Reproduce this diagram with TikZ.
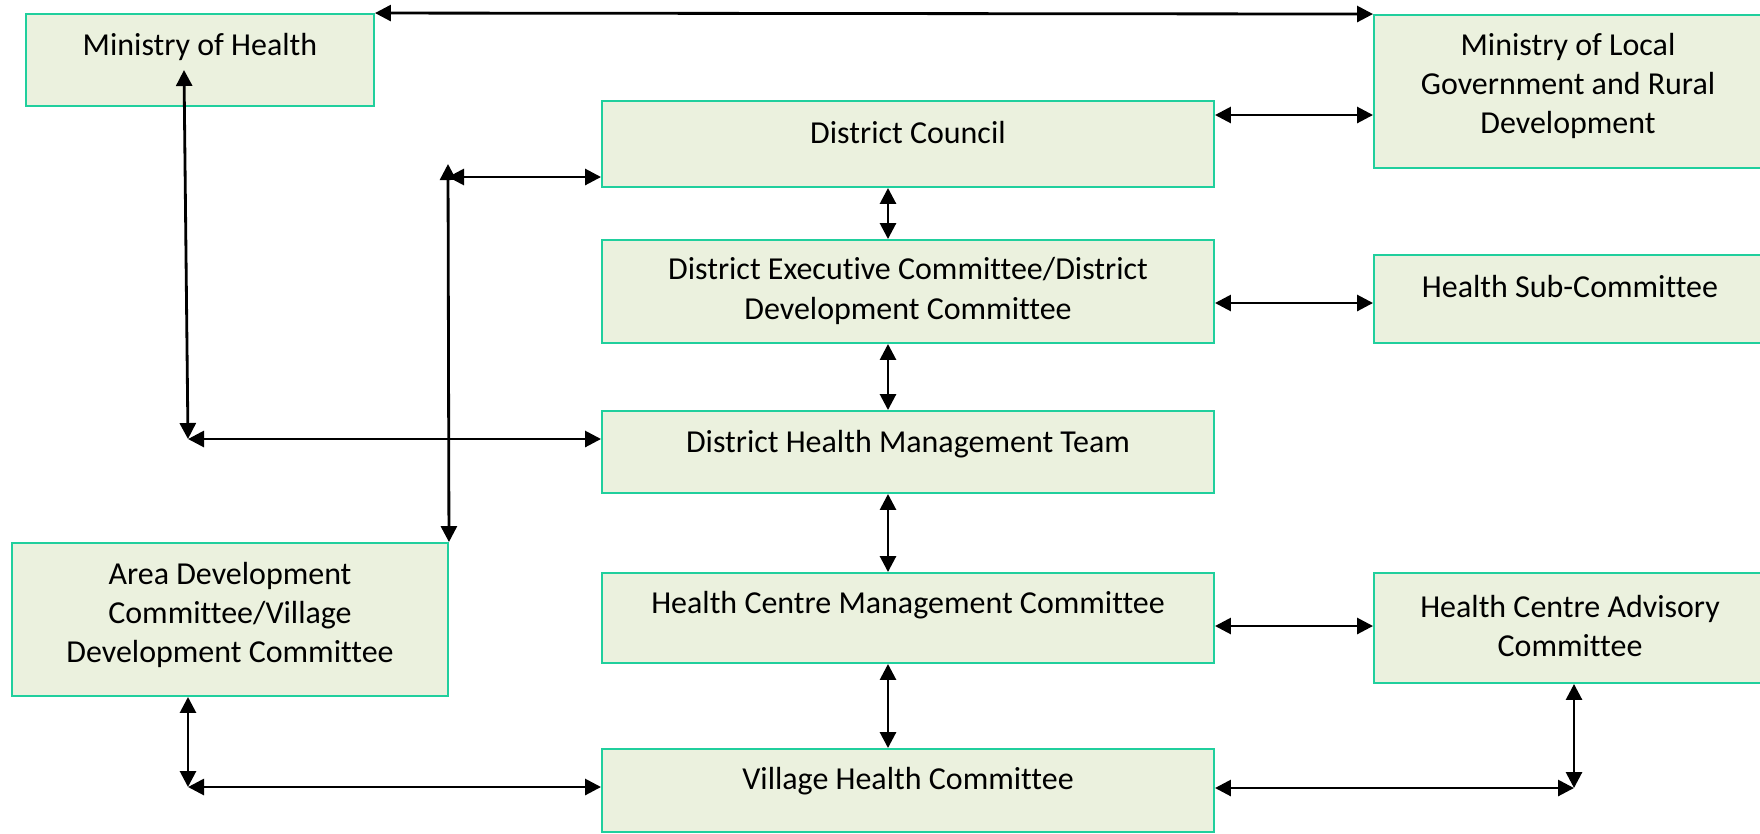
\documentclass[tikz,border=0pt]{standalone}
\usepackage{fontspec}
\setmainfont[Ligatures=NoCommon]{Carlito}
\usepackage{tikz}
\usetikzlibrary{arrows.meta, fit, positioning}

\definecolor{boxfill}{HTML}{EBF1DE}
\definecolor{boxline}{HTML}{20CF9D}

\begin{document}
\begin{tikzpicture}[x=0.02cm, y=-0.02cm,
  box/.style={draw=boxline, fill=boxfill, line width=1.1pt, inner sep=0pt},
  txt/.style={align=center, inner sep=0pt, font=\fontsize{18.2}{22.3}\selectfont},
  link/.style={{Triangle[length=0.32cm,width=0.32cm]}-{Triangle[length=0.32cm,width=0.32cm]}, line width=1.6pt}]
\color{black}
\useasboundingbox (0,0) rectangle (1760,833);

% boxes
\node[box, fit={(26,14) (374,106)}] (moh) {};
\node[box, fit={(1374,15) (1764,168)}] (molg) {};
\node[box, fit={(602,101) (1214,187)}] (dc) {};
\node[box, fit={(602,240) (1214,343)}] (dec) {};
\node[box, fit={(1374,255) (1764,343)}] (hsc) {};
\node[box, fit={(602,411) (1214,493)}] (dhmt) {};
\node[box, fit={(12,543) (448,696)}] (adc) {};
\node[box, fit={(602,573) (1214,663)}] (hcmc) {};
\node[box, fit={(1374,573) (1764,683)}] (hcac) {};
\node[box, fit={(602,749) (1214,832)}] (vhc) {};

\node[txt] (mohtxt) at (200,47) {Ministry of Health};
\node[txt] (molgtxt) at (1568,86) {Ministry of Local\\Government and Rural\\Development};
\node[txt] (dctxt) at (908,133) {District Council};
\node[txt] (dectxt) at (908,291) {District Executive Committee/District\\Development Committee};
\node[txt] (hsctxt) at (1570,287) {Health Sub-Committee};
\node[txt] (dhmttxt) at (908,444) {District Health Management Team};
\node[txt] (adctxt) at (230,615) {Area Development\\Committee/Village\\Development Committee};
\node[txt] (hcmctxt) at (908,605) {Health Centre Management Committee};
\node[txt] (hcactxt) at (1570,626) {Health Centre Advisory\\Committee};
\node[txt] (vhctxt) at (908,781) {Village Health Committee};

% corner points
\coordinate (mid) at (888,0);
\coordinate (mtop) at (184,70);
\coordinate (mc) at (188,439);
\coordinate (ltop) at (448,164);
\coordinate (lmid) at (448,177);
\coordinate (lc) at (188,787);
\coordinate (rc) at (1574,788);

% links
\draw[link] (moh.north east) -- (molg.north west);
\draw[link] (dc.east |- 0,115) -- (molg.west |- 0,115);
\draw[link] (dec.east |- 0,303) -- (hsc.west |- 0,303);
\draw[link] (hcmc.east |- 0,626) -- (hcac.west |- 0,626);

\draw[link] (dc.south -| mid) -- (dec.north -| mid);
\draw[link] (dec.south -| mid) -- (dhmt.north -| mid);
\draw[link] (dhmt.south -| mid) -- (hcmc.north -| mid);
\draw[link] (hcmc.south -| mid) -- (vhc.north -| mid);

\draw[link] (mtop) -- (mc);
\draw[link] (mc) -- (dhmt.west |- mc);
\draw[link] (ltop) -- (adc.north east);
\draw[link] (lmid) -- (dc.west |- lmid);

\draw[link] (adc.south -| lc) -- (lc);
\draw[link] (lc) -- (vhc.west |- lc);
\draw[link] (hcac.south -| rc) -- (rc);
\draw[link] (vhc.east |- rc) -- (rc);
\end{tikzpicture}
\end{document}
